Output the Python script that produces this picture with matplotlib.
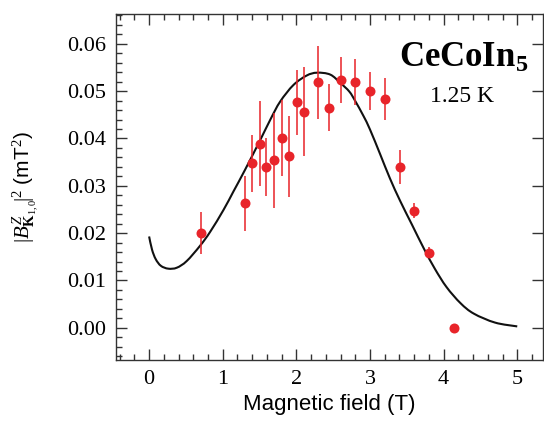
import matplotlib
matplotlib.use("Agg")
import numpy as np
import matplotlib.pyplot as plt
from matplotlib.ticker import MultipleLocator
from matplotlib.path import Path
from matplotlib.patches import PathPatch

# Data points (field in T, |B|^2 in mT^2, error bar low/high)
field = [0.70, 1.30, 1.40, 1.50, 1.59, 1.70, 1.80, 1.90, 2.01, 2.10, 2.30, 2.44,
         2.60, 2.80, 3.00, 3.21, 3.41, 3.60, 3.80, 4.14]
value = [0.0200, 0.0263, 0.0348, 0.0389, 0.0340, 0.0355, 0.0401, 0.0363, 0.0477, 0.0457,
         0.0519, 0.0465, 0.0524, 0.0520, 0.0501, 0.0484, 0.0340, 0.0247, 0.0158, 0.0000]
err_lo = [0.0155, 0.0205, 0.0288, 0.0299, 0.0279, 0.0253, 0.0320, 0.0276, 0.0408, 0.0362,
          0.0441, 0.0416, 0.0475, 0.0471, 0.0461, 0.0439, 0.0304, 0.0232, 0.0147, 0.0000]
err_hi = [0.0245, 0.0320, 0.0408, 0.0480, 0.0401, 0.0454, 0.0482, 0.0448, 0.0545, 0.0550,
          0.0596, 0.0515, 0.0573, 0.0568, 0.0540, 0.0528, 0.0375, 0.0263, 0.0170, 0.0000]

# Model curve
curve_x = [0.00, 0.04, 0.09, 0.16, 0.26, 0.376, 0.51, 0.69, 0.83, 1.01, 1.145, 1.30,
           1.51, 1.65, 1.78, 1.96, 2.14, 2.28, 2.46, 2.60, 2.72, 2.80, 2.91, 3.00,
           3.14, 3.27, 3.41, 3.57, 3.73, 3.88, 4.04, 4.23, 4.41, 4.70, 5.00]
curve_y = [0.0193, 0.0165, 0.0145, 0.0131, 0.0125, 0.0127, 0.0141, 0.0173, 0.0203, 0.0249,
           0.0288, 0.0333, 0.0397, 0.0441, 0.0478, 0.0513, 0.0533, 0.0539, 0.0535, 0.0517,
           0.0499, 0.0479, 0.0448, 0.0419, 0.0366, 0.0316, 0.0268, 0.0218, 0.0168, 0.0125,
           0.0086, 0.0052, 0.0030, 0.0011, 0.0003]

xticks = [0, 1, 2, 3, 4, 5]
yticks = [0.00, 0.01, 0.02, 0.03, 0.04, 0.05, 0.06]

plt.rcParams["mathtext.fontset"] = "custom"
plt.rcParams["mathtext.rm"] = "Liberation Serif"
plt.rcParams["mathtext.it"] = "Liberation Serif:italic"
plt.rcParams["mathtext.bf"] = "Liberation Serif:bold"

fig = plt.figure(figsize=(5.44, 4.23), dpi=100)
ax = fig.add_axes([0.2132, 0.1489, 0.785, 0.818])

red = "#e8242a"

# smooth curve through the read points, drawn as Bezier path (Catmull-Rom tangents)
P = np.column_stack([curve_x, curve_y])
verts = [P[0]]
codes = [Path.MOVETO]
n = len(P)
for i in range(n - 1):
    p0 = P[i - 1] if i > 0 else P[i]
    p1 = P[i]
    p2 = P[i + 1]
    p3 = P[i + 2] if i + 2 < n else P[i + 1]
    c1 = p1 + (p2 - p0) / 6.0
    c2 = p2 - (p3 - p1) / 6.0
    verts += [c1, c2, p2]
    codes += [Path.CURVE4] * 3
ax.add_patch(PathPatch(Path(verts, codes), facecolor="none", edgecolor="#111111",
                       lw=1.5, zorder=2))

yerr = [[v - lo for v, lo in zip(value, err_lo)], [hi - v for v, hi in zip(value, err_hi)]]
ax.errorbar(field, value, yerr=yerr, fmt="none", ecolor=red, elinewidth=1.3,
            alpha=0.85, capsize=0, zorder=3)
ax.plot(field, value, "o", color=red, markersize=7.2, markeredgewidth=0, zorder=4)

ax.set_xlim(-0.45, 5.35)
ax.set_ylim(-0.0068, 0.0663)
ax.set_xticks(xticks)
ax.set_yticks(yticks)
ax.set_xticklabels([str(t) for t in xticks], family="Liberation Serif", fontsize=16)
ax.set_yticklabels([f"{t:.2f}" for t in yticks], family="Liberation Serif", fontsize=16)
ax.xaxis.set_minor_locator(MultipleLocator(0.2))
ax.yaxis.set_minor_locator(MultipleLocator(0.002))

ax.tick_params(which="major", direction="in", length=8, width=1.0, color="#333333",
               top=True, right=True, pad=7)
ax.tick_params(which="minor", direction="in", length=4, width=1.0, color="#333333",
               top=True, right=False)
for s in ax.spines.values():
    s.set_color("#333333")
    s.set_linewidth(1.0)

ax.set_xlabel("Magnetic field (T)", family="Liberation Sans", fontsize=16, labelpad=4)
ax.set_ylabel(r"$|B^{Z}_{\mathbf{K}_{\mathrm{1,0}}}\!|^{2}$ (mT$^2$)", family="Liberation Sans",
              fontsize=15, labelpad=19)

ax.text(0.815, 0.873, r"CeCoIn$_\mathbf{5}$", transform=ax.transAxes, ha="center", va="center",
        family="Liberation Serif", fontweight="bold", fontsize=25)
ax.text(0.81, 0.763, "1.25 K", transform=ax.transAxes, ha="center", va="center",
        family="Liberation Serif", fontsize=17)

fig.savefig("out.png", dpi=100)
